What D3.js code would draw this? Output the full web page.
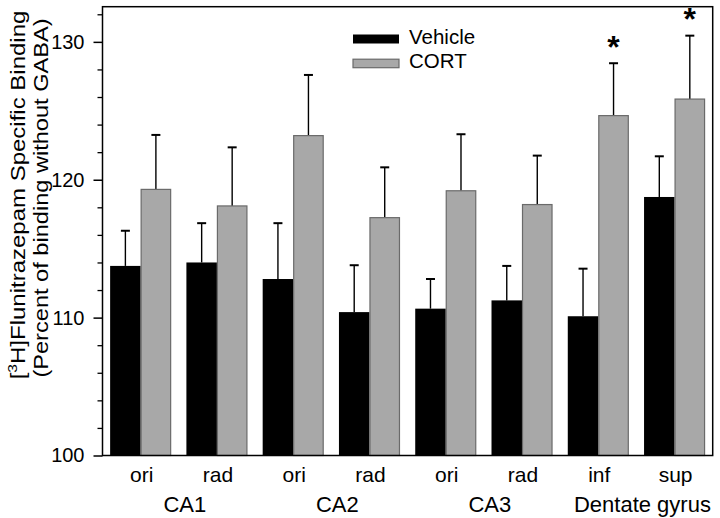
<!DOCTYPE html>
<html>
<head>
<meta charset="utf-8">
<script src="https://cdn.jsdelivr.net/npm/d3@7"></script>
<style>
  html, body { margin: 0; padding: 0; background: #fff; }
  svg { display: block; }
  text { font-family: "Liberation Sans", Arial, Helvetica, sans-serif; fill: #000; }
</style>
</head>
<body>
<svg id="chart" width="720" height="518"></svg>
<script>
// ---- data ----
const subLabels = ["ori", "rad", "ori", "rad", "ori", "rad", "inf", "sup"];
const regions = ["CA1", "CA2", "CA3", "Dentate gyrus"];
const seriesNames = ["Vehicle", "CORT"];
const vehicle = [113.75, 114.0, 112.8, 110.4, 110.65, 111.25, 110.1, 118.75];
const vehicleErr = [2.55, 2.85, 4.05, 3.4, 2.15, 2.5, 3.45, 2.95];
const cort = [119.3, 118.1, 123.2, 117.25, 119.2, 118.2, 124.65, 125.85];
const cortErr = [3.95, 4.25, 4.4, 3.65, 4.1, 3.55, 3.8, 4.6];
const significant = [false, false, false, false, false, false, true, true];
const majorTicks = [100, 110, 120, 130];
const minorTicks = [102, 104, 106, 108, 112, 114, 116, 118, 122, 124, 126, 128, 132];

// ---- layout ----
const L = 102.5, R = 712.7, T = 6.7, B = 455.5;
const svg = d3.select("#chart");
const idx = d3.range(subLabels.length);

const x = d3.scaleBand().domain(idx).range([L, R]).paddingInner(0.2).paddingOuter(0.1);
const xs = d3.scaleBand().domain([0, 1]).range([0, x.bandwidth()]);
const y = d3.scaleLinear().domain([100, 132.55]).range([B, T]);

const colors = ["#000000", "#a8a8a8"];
const strokes = ["#000000", "#6a6a6a"];

const rows = idx.map(i => ({
  i,
  vals: [
    { s: 0, v: vehicle[i], e: vehicleErr[i] },
    { s: 1, v: cort[i], e: cortErr[i] }
  ]
}));

// bars
const g = svg.append("g");
const grp = g.selectAll("g.grp").data(rows).join("g")
  .attr("class", "grp")
  .attr("transform", d => `translate(${x(d.i)},0)`);

// error bars (upper only)
grp.selectAll("line.err").data(d => d.vals).join("line")
  .attr("x1", d => xs(d.s) + xs.bandwidth() / 2)
  .attr("x2", d => xs(d.s) + xs.bandwidth() / 2)
  .attr("y1", d => y(d.v))
  .attr("y2", d => y(d.v + d.e))
  .attr("stroke", "#000").attr("stroke-width", 1.4);
grp.selectAll("line.cap").data(d => d.vals).join("line")
  .attr("x1", d => xs(d.s) + xs.bandwidth() / 2 - 4.5)
  .attr("x2", d => xs(d.s) + xs.bandwidth() / 2 + 4.5)
  .attr("y1", d => y(d.v + d.e))
  .attr("y2", d => y(d.v + d.e))
  .attr("stroke", "#000").attr("stroke-width", 2);

grp.selectAll("rect").data(d => d.vals).join("rect")
  .attr("x", d => xs(d.s) + (d.s === 1 ? 0.5 : 0))
  .attr("y", d => y(d.v))
  .attr("width", d => xs.bandwidth() - (d.s === 1 ? 1 : 0))
  .attr("height", d => y(100) - y(d.v))
  .attr("fill", d => colors[d.s])
  .attr("stroke", d => strokes[d.s])
  .attr("stroke-width", d => d.s === 1 ? 1.2 : 0);

// significance asterisks
svg.append("g").selectAll("text").data(idx.filter(i => significant[i])).join("text")
  .attr("x", i => x(i) + xs(1) + xs.bandwidth() / 2)
  .attr("y", i => y(cort[i] + cortErr[i]) - 5.5)
  .attr("text-anchor", "middle")
  .attr("font-size", 32).attr("font-weight", "bold")
  .text("*");

// frame
svg.append("rect")
  .attr("x", L).attr("y", T).attr("width", R - L).attr("height", B - T)
  .attr("fill", "none").attr("stroke", "#000").attr("stroke-width", 1.5);

// y axis major
const yAxis = svg.append("g").attr("transform", `translate(${L},0)`)
  .call(d3.axisLeft(y).tickValues(majorTicks).tickSize(9).tickPadding(9).tickFormat(d3.format("d")));
yAxis.select(".domain").remove();
yAxis.selectAll(".tick line").attr("stroke-width", 1.5);
yAxis.selectAll(".tick text").attr("font-size", 20).attr("font-family", "Liberation Sans, Arial, sans-serif");

// y axis minor
const yMinor = svg.append("g").attr("transform", `translate(${L},0)`)
  .call(d3.axisLeft(y).tickValues(minorTicks).tickSize(5).tickFormat(""));
yMinor.select(".domain").remove();
yMinor.selectAll(".tick line").attr("stroke-width", 1.3);

// x sub labels
svg.append("g").selectAll("text").data(idx).join("text")
  .attr("x", i => x(i) + x.bandwidth() / 2 + 1)
  .attr("y", 482)
  .attr("text-anchor", "middle")
  .attr("font-size", 21)
  .text(i => subLabels[i]);

// region labels
svg.append("g").selectAll("text").data(regions).join("text")
  .attr("x", (d, k) => (x(2 * k) + x(2 * k + 1) + x.bandwidth()) / 2 + 6)
  .attr("y", 512)
  .attr("text-anchor", "middle")
  .attr("font-size", 22)
  .text(d => d);

// legend
const leg = svg.append("g");
seriesNames.forEach((name, k) => {
  const yy = [34.5, 59.2][k];
  leg.append("rect")
    .attr("x", 353).attr("y", yy).attr("width", 46).attr("height", k === 0 ? 9 : 8.5)
    .attr("fill", colors[k]).attr("stroke", strokes[k]).attr("stroke-width", k === 1 ? 1.2 : 0);
  leg.append("text")
    .attr("x", 409).attr("y", [44.3, 67.8][k])
    .attr("font-size", 20.5)
    .text(name);
});

// y title
const t1 = svg.append("text")
  .attr("transform", "translate(25,195) rotate(-90) scale(1.2,1)")
  .attr("text-anchor", "middle").attr("font-size", 20);
t1.append("tspan").text("[");
t1.append("tspan").attr("dy", -8).attr("font-size", 13).text("3");
t1.append("tspan").attr("dy", 8).text("H]Flunitrazepam Specific Binding");

svg.append("text")
  .attr("transform", "translate(48,198) rotate(-90) scale(1.18,1)")
  .attr("text-anchor", "middle").attr("font-size", 20)
  .text("(Percent of binding without GABA)");
</script>
</body>
</html>
